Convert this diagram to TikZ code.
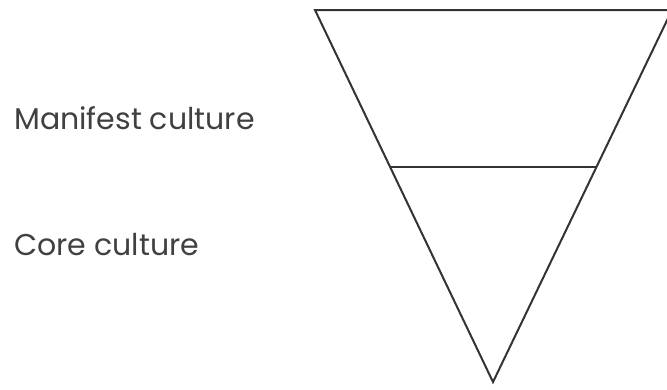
\documentclass[tikz,border=0pt]{standalone}
\usepackage{fontspec}
\setmainfont{Poppins}
\usetikzlibrary{positioning,calc}

\begin{document}
\begin{tikzpicture}[
  x=1pt, y=-1pt,
  layer/.style={draw=black!80, line width=2pt, line join=miter},
  label/.style={anchor=base west, inner sep=0pt, text=black!75,
    font=\fontsize{30}{34}\selectfont}
]
\useasboundingbox (0,0) rectangle (667,389);
% triangle corners
\coordinate (topleft) at (315,10);
\coordinate (topright) at (672,10);
\coordinate (apex) at (493,382);
\coordinate (midleft) at ($(topleft)!0.422!(apex)$);
\coordinate (midright) at ($(topright)!0.422!(apex)$);
\draw[layer] (topleft) -- (topright) -- (apex) -- cycle;
\draw[layer] (midleft) -- (midright);
\node[label] (manifest) at (14,129) {Manifest culture};
\node[label] (core) at (14,255) {Core culture};
\end{tikzpicture}
\end{document}
